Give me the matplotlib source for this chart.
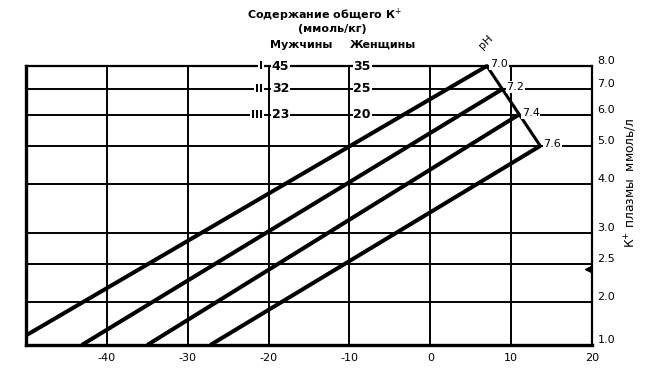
import matplotlib
matplotlib.use('Agg')
import matplotlib.pyplot as plt
from matplotlib.ticker import FixedLocator, NullLocator

# ---- data ----
ph_labels = ['7.0', '7.2', '7.4', '7.6']
line_x_start = [-50.0, -43.1, -35.0, -27.2]
line_k_start = [1.64, 1.55, 1.55, 1.55]
line_x_end = [7.0, 9.0, 10.9, 13.6]
line_k_end = [8.0, 7.0, 6.0, 5.0]

x_ticks = [-40, -30, -20, -10, 0, 10, 20]
x_tick_labels = ['-40', '-30', '-20', '-10', '0', '10', '20']
k_ticks = [1.55, 2.0, 2.5, 3.0, 4.0, 5.0, 6.0, 7.0, 8.0]
k_tick_labels = ['1.0', '2.0', '2.5', '3.0', '4.0', '5.0', '6.0', '7.0', '8.0']
k_grid = [2.0, 2.5, 3.0, 4.0, 5.0, 6.0, 7.0]
x_grid = [-40, -30, -20, -10, 0, 10]

men_x = -20
women_x = -10
men_roman = ['I', 'II', 'III']
men_values = ['45', '32', '23']
women_values = ['35', '25', '20']
total_k_rows = [8.0, 7.0, 6.0]

# ---- figure ----
W, H = 658, 369
fig = plt.figure(figsize=(W / 100, H / 100), dpi=100)
ax = fig.add_axes([26 / W, 1 - 345 / H, (592 - 26) / W, (345 - 66) / H])
ax.set_yscale('log')
ax.set_xlim(-50, 20)
ax.set_ylim(1.55, 8.0)

for s, lw in [('left', 2.4), ('bottom', 2.4), ('right', 1.6), ('top', 1.6)]:
    ax.spines[s].set_linewidth(lw)
    ax.spines[s].set_color('black')

# grid
for k in k_grid:
    ax.axhline(k, color='black', lw=1.4, zorder=1)
for xv in x_grid:
    ax.axvline(xv, color='black', lw=1.4, zorder=1)

# pH lines
for xs, ks, xe, ke in zip(line_x_start, line_k_start, line_x_end, line_k_end):
    ax.plot([xs, xe], [ks, ke], color='black', lw=2.9, solid_capstyle='butt',
            zorder=2, clip_on=False)
# boundary through the ends
ax.plot([line_x_end[0], line_x_end[-1]], [line_k_end[0], line_k_end[-1]],
        color='black', lw=2.2, zorder=2, clip_on=False)

box = dict(facecolor='white', edgecolor='none', pad=0.6)
for lab, xe, ke in zip(ph_labels, line_x_end, line_k_end):
    ax.text(xe + 0.4, ke * 1.01, lab, ha='left', va='center', fontsize=8,
            bbox=box, zorder=4)

# total K scales
for r, mv, wv, k in zip(men_roman, men_values, women_values, total_k_rows):
    ax.text(men_x - 0.7, k, r, ha='right', va='center', fontsize=8,
            fontweight='bold', bbox=box, zorder=4)
    ax.text(men_x + 0.4, k, mv, ha='left', va='center', fontsize=9,
            fontweight='bold', bbox=box, zorder=4)
    ax.text(women_x + 0.5, k, wv, ha='left', va='center', fontsize=9,
            fontweight='bold', bbox=box, zorder=4)

# pointer at right axis
ax.plot([19.5], [2.43], marker='<', color='black', markersize=5, clip_on=False, zorder=5)

# ticks
ax.xaxis.set_major_locator(FixedLocator(x_ticks))
ax.set_xticklabels(x_tick_labels, fontsize=8)
ax.xaxis.set_minor_locator(NullLocator())
ax.tick_params(axis='x', length=0, pad=6)
ax.yaxis.tick_right()
ax.yaxis.set_major_locator(FixedLocator(k_ticks))
ax.yaxis.set_minor_locator(NullLocator())
ax.set_yticklabels(k_tick_labels, fontsize=8)
for t in ax.get_yticklabels():
    t.set_verticalalignment('bottom')
ax.tick_params(axis='y', length=0, pad=4)

# titles
fig.text(325 / W, 1 - 15 / H, 'Содержание общего К$^{+}$', ha='center', va='center',
         fontsize=8, fontweight='bold')
fig.text(332 / W, 1 - 29 / H, '(ммоль/кг)', ha='center', va='center',
         fontsize=8, fontweight='bold')
fig.text(301 / W, 1 - 45 / H, 'Мужчины', ha='center', va='center',
         fontsize=8, fontweight='bold')
fig.text(383 / W, 1 - 45 / H, 'Женщины', ha='center', va='center',
         fontsize=8, fontweight='bold')
fig.text(486 / W, 1 - 42 / H, 'pH', ha='center', va='center', fontsize=8, rotation=45)
fig.text(631 / W, 1 - 183 / H, 'К$^{+}$ плазмы  ммоль/л', ha='center', va='center',
         fontsize=8.8, rotation=90)

fig.savefig('out.png', dpi=100, facecolor='white')
